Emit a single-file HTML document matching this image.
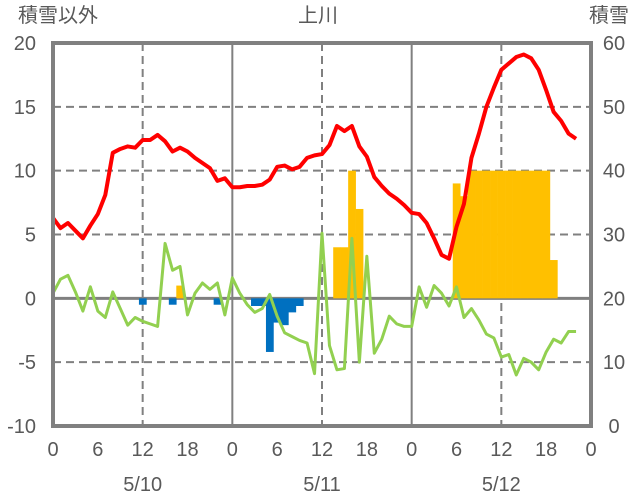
<!DOCTYPE html>
<html><head><meta charset="utf-8"><style>
html,body{margin:0;padding:0;background:#fff;}
svg{display:block;font-family:"Liberation Sans","Noto Sans CJK JP",sans-serif;}
</style></head><body>
<svg id="chart" width="636" height="501" viewBox="0 0 636 501">
<g id="grid"></g>
<g id="bars"></g>
<g id="lines"></g>
<g id="frame"></g>
<g id="labels"></g>
<text x="58" y="22" font-size="20" fill="#595959" text-anchor="middle">積雪以外</text>
<text x="318" y="22" font-size="20" fill="#595959" text-anchor="middle">上川</text>
<text x="609" y="22" font-size="20" fill="#595959" text-anchor="middle">積雪</text>
</svg>
<script>
const redTemp=[6.3,5.5,5.9,5.3,4.7,5.7,6.6,8.1,11.4,11.7,11.9,11.8,12.4,12.4,12.8,12.3,11.5,11.8,11.5,11.0,10.6,10.2,9.2,9.4,8.7,8.7,8.8,8.8,8.9,9.3,10.3,10.4,10.1,10.3,11.0,11.2,11.3,12.0,13.5,13.1,13.5,11.9,11.1,9.5,8.8,8.2,7.8,7.3,6.7,6.6,5.9,4.7,3.4,3.1,5.6,7.4,11.0,12.9,15.0,16.5,17.9,18.4,18.9,19.1,18.8,17.9,16.3,14.6,13.9,12.9,12.5];
const greenSeries=[0.4,1.5,1.8,0.5,-1.0,0.9,-1.0,-1.5,0.5,-0.8,-2.1,-1.5,-1.8,-2.0,-2.2,4.3,2.2,2.5,-1.3,0.4,1.2,0.7,1.2,-1.3,1.6,0.4,-0.5,-1.1,-0.8,0.3,-1.4,-2.7,-3.0,-3.3,-3.5,-5.9,5.1,-3.7,-5.6,-5.5,4.7,-5.0,3.3,-4.3,-3.2,-1.4,-2.0,-2.2,-2.2,0.9,-0.7,1.0,0.4,-0.6,0.9,-1.5,-0.8,-1.7,-2.8,-3.1,-4.6,-4.4,-6.0,-4.7,-5.0,-5.6,-4.2,-3.2,-3.5,-2.6,-2.6];
const orangeHours=[17,38,39,40,41,54,55,56,57,58,59,60,61,62,63,64,65,66,67];
const orangeValues=[1,4,4,10,7,9,8,10,10,10,10,10,10,10,10,10,10,10,3];
const blueHours=[12,16,22,27,28,29,30,31,32,33];
const blueValues=[-0.5,-0.5,-0.5,-0.6,-0.6,-4.2,-1.9,-2.1,-1.1,-0.6];
const xTickLabels=["0","6","12","18","0","6","12","18","0","6","12","18","0"];
const leftTicks=[20,15,10,5,0,-5,-10];
const rightTicks=[60,50,40,30,20,10,0];
const dateLabels=["5/10","5/11","5/12"];

const X0=53,X1=591,Y0=43,Y1=426;
const x=h=>X0+h*(X1-X0)/72;
const y=v=>Y0+(20-v)*(Y1-Y0)/30;
const yR=v=>Y0+(60-v)*(Y1-Y0)/60;
const NS="http://www.w3.org/2000/svg";
function mk(parent,tag,attrs){const e=document.createElementNS(NS,tag);for(const k in attrs)e.setAttribute(k,attrs[k]);document.getElementById(parent).appendChild(e);return e;}

leftTicks.forEach(v=>{
  if(v===20||v===-10||v===0)return;
  const l=mk('grid','line',{x1:X0,x2:X1,y1:y(v),y2:y(v),stroke:'#808080','stroke-width':2,'stroke-dasharray':'8,5'});
  
  
});
for(let h=12;h<72;h+=12){
  const day=h%24===0;
  const l=mk('grid','line',{x1:x(h),x2:x(h),y1:Y0,y2:Y1,stroke:'#808080','stroke-width':2,'stroke-dasharray':day?'none':'8,5'});
  
  
}
const bw=(X1-X0)/72;
orangeHours.forEach((h,i)=>{
  const v=orangeValues[i];
  const r=mk('bars','rect',{x:x(h)-bw/2,y:y(v),width:bw+0.3,height:y(0)-y(v),fill:'#FFC000'});
  
  
});
blueHours.forEach((h,i)=>{
  const v=blueValues[i];
  const r=mk('bars','rect',{x:x(h)-bw/2,y:y(0),width:bw+0.3,height:y(v)-y(0),fill:'#0070C0'});
  
  
});
const zl=mk('grid','line',{x1:X0,x2:X1,y1:y(0),y2:y(0),stroke:'#808080','stroke-width':3});


const gl=mk('lines','polyline',{points:greenSeries.map((v,i)=>x(i)+','+y(v)).join(' '),fill:'none',stroke:'#92D050','stroke-width':3,'stroke-linejoin':'round'});


const rl=mk('lines','polyline',{points:redTemp.map((v,i)=>x(i)+','+y(v)).join(' '),fill:'none',stroke:'#FF0000','stroke-width':4,'stroke-linejoin':'round'});


const fr=mk('frame','rect',{x:X0,y:Y0,width:X1-X0,height:Y1-Y0,fill:'none',stroke:'#808080','stroke-width':4});


leftTicks.forEach(v=>{
  const t=mk('labels','text',{x:36,y:y(v)+7,'font-size':20,fill:'#595959','text-anchor':'end'});
  t.textContent=v;
  
  
});
rightTicks.forEach(v=>{
  const t=mk('labels','text',{x:614,y:yR(v)+7,'font-size':20,fill:'#595959','text-anchor':'middle'});
  t.textContent=v;
  
  
});
xTickLabels.forEach((s,i)=>{
  const t=mk('labels','text',{x:x(i*6),y:456,'font-size':20,fill:'#595959','text-anchor':'middle'});
  t.textContent=s;
  
  
});
dateLabels.forEach((s,i)=>{
  const t=mk('labels','text',{x:x(i*24+12),y:491,'font-size':20,fill:'#595959','text-anchor':'middle'});
  t.textContent=s;
  
  
});
</script>
</body></html>
